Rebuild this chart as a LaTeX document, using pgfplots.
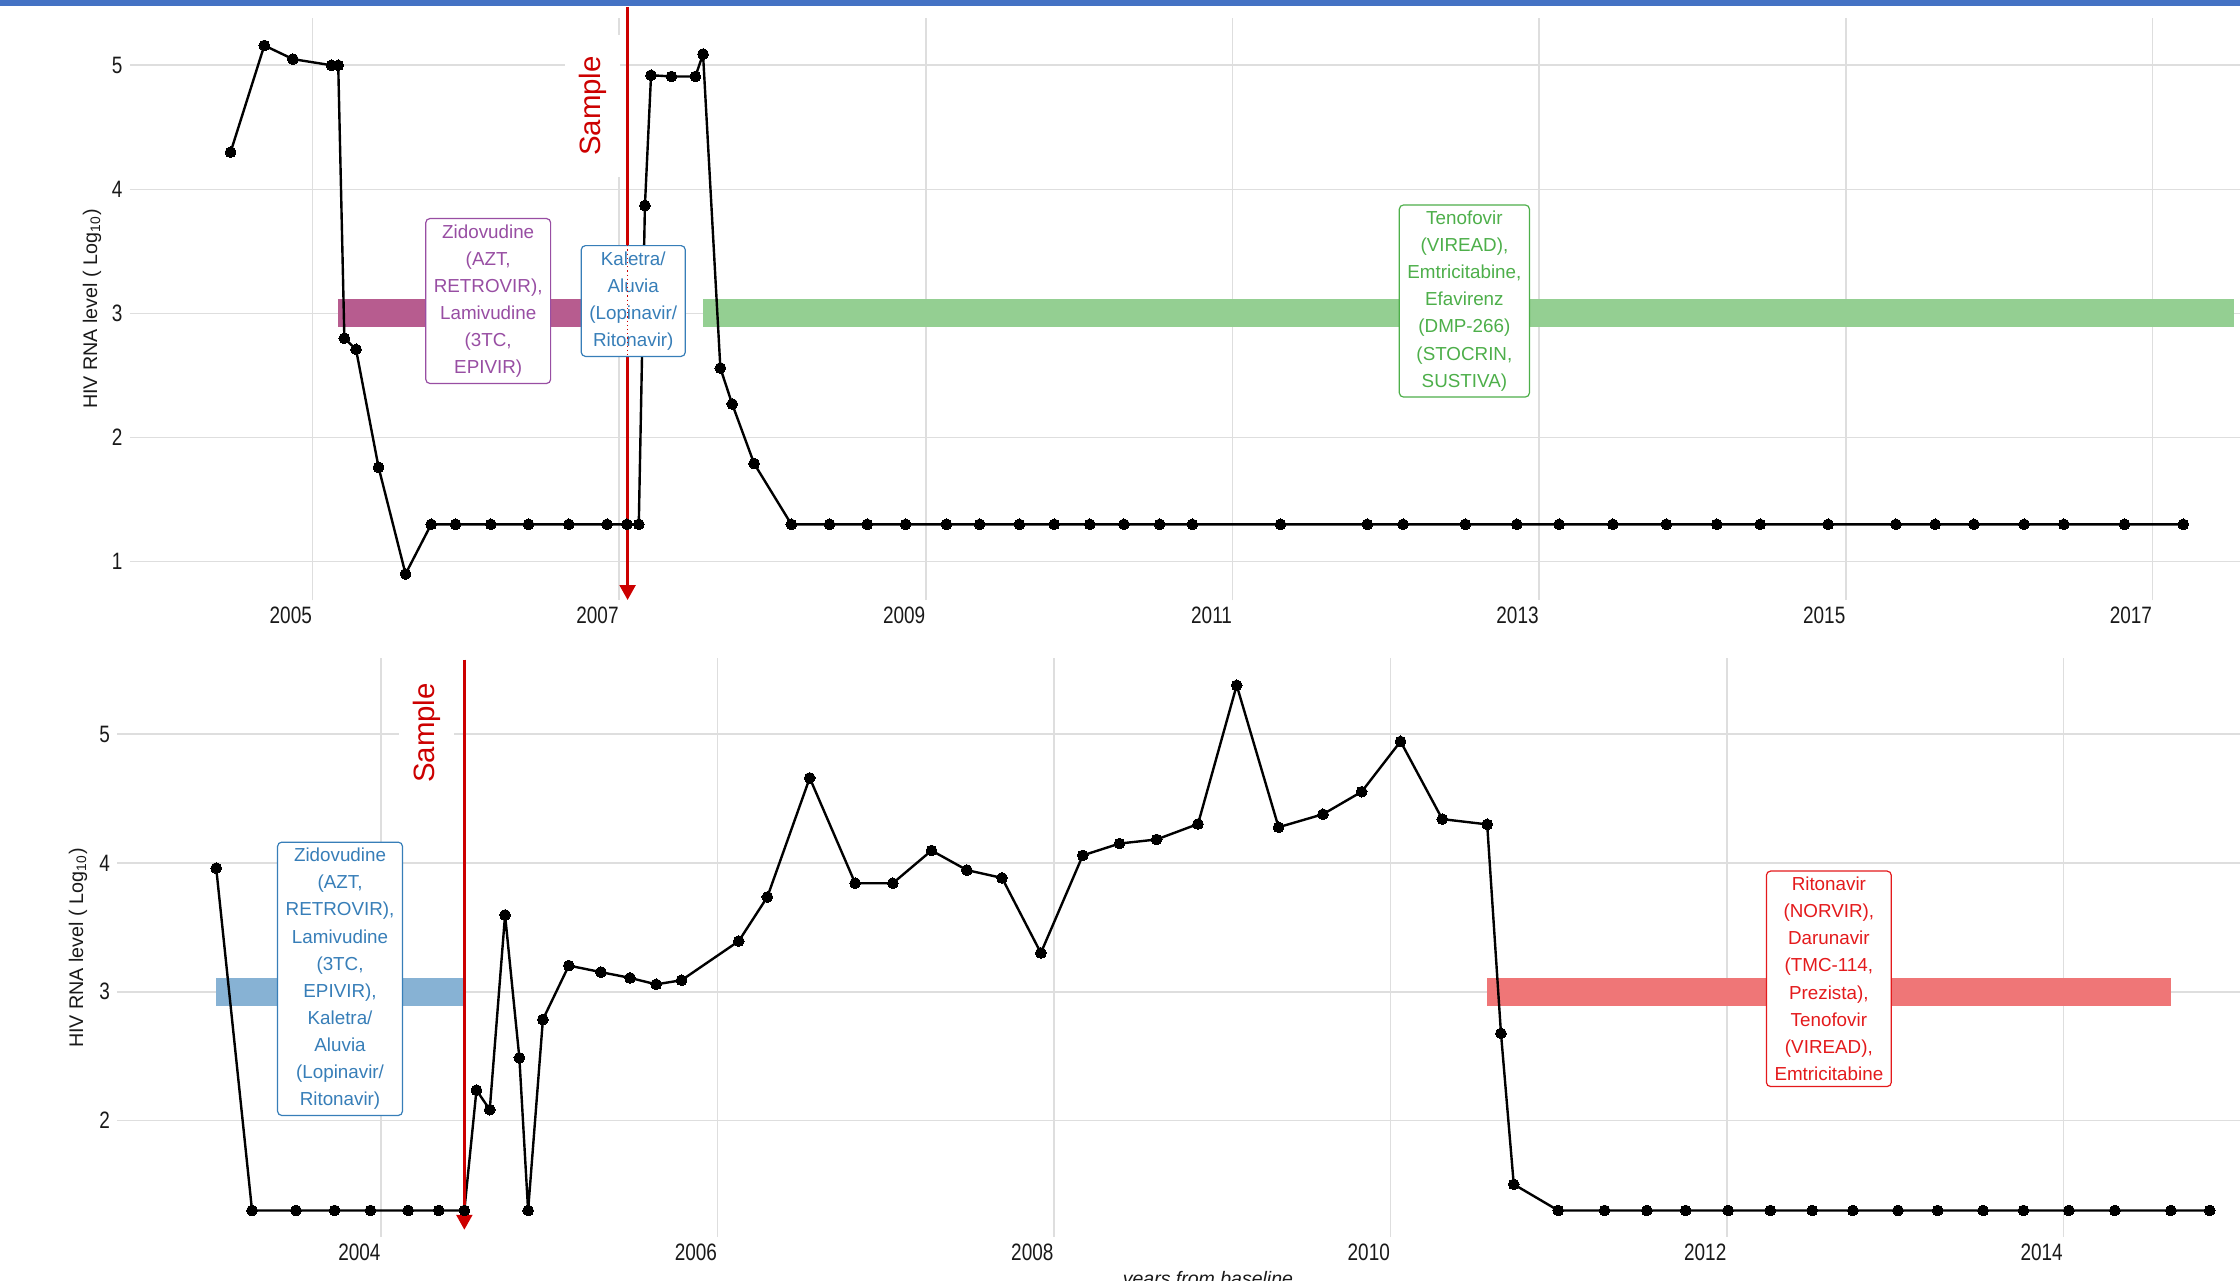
\documentclass[border=0pt]{standalone}
\usepackage{pgfplots}
\pgfplotsset{compat=1.18}
\usepackage{pgfplotstable}
\usepackage{fontspec}
\setmainfont{Liberation Sans}
\newfontfamily\ticksfont[FakeStretch=0.8]{Liberation Sans}
\usetikzlibrary{arrows.meta}
\definecolor{gridc}{RGB}{222,222,222}
\definecolor{topbar}{HTML}{4472C4}
\definecolor{samplered}{HTML}{CC0000}
\definecolor{cpurple}{HTML}{984EA3}
\definecolor{cblue}{HTML}{377EB8}
\definecolor{cgreen}{HTML}{4DAF4A}
\definecolor{cred}{HTML}{E41A1C}
\definecolor{barpurple}{HTML}{B75C8F}
\definecolor{bargreen}{HTML}{94CF92}
\definecolor{barblue}{HTML}{87B2D4}
\definecolor{barred}{HTML}{EF7677}

\pgfplotstableread{
x y
2004.466 4.30
2004.686 5.16
2004.872 5.05
2005.125 5.00
2005.168 5.00
2005.208 2.80
2005.284 2.71
2005.431 1.76
2005.607 0.90
2005.774 1.30
2005.933 1.30
2006.163 1.30
2006.409 1.30
2006.672 1.30
2006.921 1.30
2007.051 1.30
2007.128 1.30
2007.168 3.87
2007.208 4.92
2007.341 4.91
2007.497 4.91
2007.547 5.09
2007.660 2.56
2007.737 2.27
2007.880 1.79
2008.123 1.30
2008.372 1.30
2008.618 1.30
2008.868 1.30
2009.134 1.30
2009.351 1.30
2009.610 1.30
2009.837 1.30
2010.069 1.30
2010.292 1.30
2010.525 1.30
2010.738 1.30
2011.313 1.30
2011.879 1.30
2012.112 1.30
2012.518 1.30
2012.854 1.30
2013.130 1.30
2013.480 1.30
2013.829 1.30
2014.158 1.30
2014.441 1.30
2014.884 1.30
2015.326 1.30
2015.582 1.30
2015.835 1.30
2016.162 1.30
2016.421 1.30
2016.817 1.30
2017.200 1.30
}\toptable

\pgfplotstableread{
x y
2003.020 3.96
2003.233 1.30
2003.494 1.30
2003.724 1.30
2003.937 1.30
2004.161 1.30
2004.343 1.30
2004.495 1.30
2004.567 2.235
2004.646 2.083
2004.737 3.596
2004.822 2.486
2004.874 1.30
2004.962 2.784
2005.116 3.203
2005.307 3.152
2005.480 3.107
2005.635 3.057
2005.786 3.089
2006.126 3.393
2006.296 3.736
2006.548 4.661
2006.818 3.843
2007.042 3.843
2007.272 4.097
2007.482 3.945
2007.691 3.884
2007.922 3.301
2008.171 4.059
2008.389 4.151
2008.610 4.183
2008.856 4.303
2009.086 5.381
2009.335 4.278
2009.599 4.379
2009.829 4.554
2010.060 4.945
2010.308 4.341
2010.575 4.300
2010.657 2.676
2010.733 1.503
2010.997 1.30
2011.273 1.30
2011.524 1.30
2011.755 1.30
2012.007 1.30
2012.258 1.30
2012.507 1.30
2012.749 1.30
2013.017 1.30
2013.253 1.30
2013.523 1.30
2013.763 1.30
2014.033 1.30
2014.306 1.30
2014.639 1.30
2014.870 1.30
}\bottable

\pgfplotsset{
  myax/.style={
    scale only axis, clip=false,
    axis line style={draw=none}, major tick length=0pt,
    grid=major, major grid style={color=gridc, line width=0.55bp},
    xticklabel style={font=\ticksfont\fontsize{7.9bp}{8bp}\selectfont, text=black!90,
      anchor=north east, inner sep=0pt, yshift=-2.2bp},
    yticklabel style={font=\ticksfont\fontsize{7.9bp}{8bp}\selectfont, text=black!90,
      anchor=east, inner sep=0pt, xshift=-2.3bp},
  },
  dataline/.style={black, line width=0.8bp, mark=*, mark size=1.8bp,
    mark options={fill=black, draw=black, line width=0pt}},
}
\tikzset{
  drugbox/.style={draw=#1, text=#1, fill=white, rounded corners=1.4bp, line width=0.4bp,
    align=center, inner xsep=2.7bp, inner ysep=2bp,
    font=\fontsize{6.27bp}{9.03bp}\selectfont},
  samplelab/.style={fill=white, rotate=90, text=samplered, inner xsep=7bp, inner ysep=4.6bp,
    font=\fontsize{9.8bp}{10bp}\selectfont},
}

\begin{document}
\begin{tikzpicture}
% top blue band
\fill[topbar] (0bp,424.667bp) rectangle (746.667bp,426.667bp);

% ---------- top panel ----------
\begin{axis}[myax,
  at={(43.333bp,226.667bp)}, anchor=south west,
  width=703.333bp, height=193.867bp,
  xmin=2003.81, xmax=2017.57, ymin=0.69, ymax=5.378,
  xtick={2005,2007,2009,2011,2013,2015,2017},
  xticklabels={2005,2007,2009,2011,2013,2015,2017},
  ytick={1,2,3,4,5}, yticklabels={1,2,3,4,5},
]
\node[samplelab] at (axis cs:2006.829,4.672) {Sample};
\addplot[barpurple, line width=9.3bp, line cap=butt] coordinates {(2005.166,3) (2007.055,3)};
\addplot[bargreen, line width=9.3bp, line cap=butt] coordinates {(2007.547,3) (2017.531,3)};
\addplot[dataline] table[x=x,y=y] {\toptable};
\addplot[samplered, line width=0.9bp, -{Triangle[width=5.3bp,length=5bp]}] coordinates {(2007.055,5.47) (2007.055,0.69)};
\node[drugbox=cpurple] at (axis cs:2006.146,3.10) {Zidovudine\\(AZT,\\RETROVIR),\\Lamivudine\\(3TC,\\EPIVIR)};
\node[drugbox=cblue] at (axis cs:2007.092,3.10) {Kaletra/\\Aluvia\\(Lopinavir/\\Ritonavir)};
\node[drugbox=cgreen] at (axis cs:2012.512,3.10) {Tenofovir\\(VIREAD),\\Emtricitabine,\\Efavirenz\\(DMP-266)\\(STOCRIN,\\SUSTIVA)};
\addplot[samplered, line width=0.4bp, densely dotted] coordinates {(2007.055,3.55) (2007.055,2.64)};
\end{axis}

% ---------- bottom panel ----------
\begin{axis}[myax,
  at={(39.1bp,14.433bp)}, anchor=south west,
  width=707.567bp, height=192.767bp,
  xmin=2002.432, xmax=2015.05, ymin=1.096, ymax=5.59,
  xtick={2004,2006,2008,2010,2012,2014},
  xticklabels={2004,2006,2008,2010,2012,2014},
  ytick={2,3,4,5}, yticklabels={2,3,4,5},
]
\node[samplelab] at (axis cs:2004.271,5.01) {Sample};
\addplot[barblue, line width=9.3bp, line cap=butt] coordinates {(2003.020,3) (2004.495,3)};
\addplot[barred, line width=9.3bp, line cap=butt] coordinates {(2010.575,3) (2014.639,3)};
\addplot[dataline] table[x=x,y=y] {\bottable};
\addplot[samplered, line width=0.9bp, -{Triangle[width=5.3bp,length=5bp]}] coordinates {(2004.495,5.58) (2004.495,1.15)};
\node[drugbox=cblue] at (axis cs:2003.756,3.10) {Zidovudine\\(AZT,\\RETROVIR),\\Lamivudine\\(3TC,\\EPIVIR),\\Kaletra/\\Aluvia\\(Lopinavir/\\Ritonavir)};
\node[drugbox=cred] at (axis cs:2012.606,3.10) {Ritonavir\\(NORVIR),\\Darunavir\\(TMC-114,\\Prezista),\\Tenofovir\\(VIREAD),\\Emtricitabine};
\end{axis}

% ---------- titles (pixel coordinates) ----------
\begin{scope}[x=0.333333bp, y=-0.333333bp, shift={(0bp,426.667bp)}]
\node[rotate=90, text=black!90, font=\fontsize{6.57bp}{7bp}\selectfont] at (92,309) {HIV RNA level ( Log\textsubscript{10})};
\node[rotate=90, text=black!90, font=\fontsize{6.57bp}{7bp}\selectfont] at (78,948) {HIV RNA level ( Log\textsubscript{10})};
\node[anchor=base, text=black!90, font=\itshape\fontsize{6.5bp}{7bp}\selectfont] at (1208,1286) {years from baseline};
\end{scope}

\pgfresetboundingbox
\path[use as bounding box] (0bp,0bp) rectangle (746.667bp,426.667bp);
\end{tikzpicture}
\end{document}
